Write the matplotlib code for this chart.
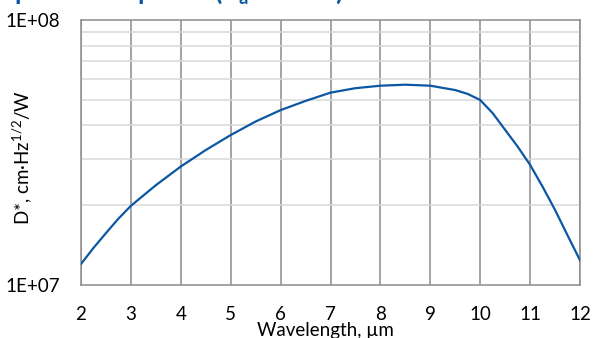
import matplotlib.pyplot as plt
from matplotlib.ticker import LogLocator, NullFormatter, FixedLocator

wavelength = [2, 2.25, 2.5, 2.75, 3, 3.5, 4, 4.5, 5, 5.5, 6, 6.5, 7, 7.5,
              8, 8.5, 9, 9.5, 9.75, 10, 10.25, 10.5, 10.75, 11, 11.25,
              11.5, 11.75, 12]
dstar = [1.20e7, 1.38e7, 1.57e7, 1.78e7, 1.99e7, 2.38e7, 2.80e7, 3.23e7,
         3.68e7, 4.14e7, 4.57e7, 4.95e7, 5.32e7, 5.53e7, 5.65e7, 5.70e7,
         5.65e7, 5.44e7, 5.26e7, 4.99e7, 4.45e7, 3.85e7, 3.33e7, 2.84e7,
         2.35e7, 1.92e7, 1.54e7, 1.24e7]
x_ticks = [2, 3, 4, 5, 6, 7, 8, 9, 10, 11, 12]
y_labels = ["1E+07", "1E+08"]

plt.rcParams["font.family"] = ["Lato", "DejaVu Sans"]
plt.rcParams["mathtext.default"] = "regular"

fig = plt.figure(figsize=(5.94, 3.38), dpi=100)
ax = fig.add_axes([81 / 594, 53 / 338, 499 / 594, 265 / 338])

ax.plot(wavelength, dstar, color="#0b57a4", linewidth=1.6, zorder=3)

ax.set_yscale("log")
ax.set_xlim(2, 12)
ax.set_ylim(1e7, 1e8)

ax.xaxis.set_major_locator(FixedLocator(x_ticks))
ax.set_xticklabels([str(t) for t in x_ticks])
ax.yaxis.set_major_locator(FixedLocator([1e7, 1e8]))
ax.set_yticklabels(y_labels)
ax.yaxis.set_minor_locator(LogLocator(base=10, subs=range(2, 10)))
ax.yaxis.set_minor_formatter(NullFormatter())

ax.grid(True, which="major", axis="x", color="#8c8c8c", linewidth=1.1)
ax.grid(True, which="minor", axis="y", color="#d9d9d9", linewidth=1.1)
ax.set_axisbelow(True)
for s in ax.spines.values():
    s.set_color("#8c8c8c")
    s.set_linewidth(1.1)

ax.tick_params(axis="both", which="both", length=0, labelsize=13.5)
ax.tick_params(axis="x", pad=15)
ax.tick_params(axis="y", pad=15)

ax.set_xlabel("Wavelength, µm", fontsize=13.5)
ax.xaxis.set_label_coords(0.49, -0.14, transform=ax.transAxes)
ax.xaxis.label.set_verticalalignment("top")
ax.set_ylabel("D*, cm·Hz$^{1/2}$/W", fontsize=13.5)
ax.yaxis.set_label_coords(-0.118, 0.48, transform=ax.transAxes)
ax.yaxis.label.set_verticalalignment("center")

# title sits mostly above the figure edge, only descenders show
fig.text(0.0, 1.0 - 6 / 338, "Spectral response (T$_a$ = 20°C)",
         color="#0b57a4", fontsize=19, fontweight="bold",
         va="bottom", ha="left")

plt.savefig("out.png", dpi=100)
